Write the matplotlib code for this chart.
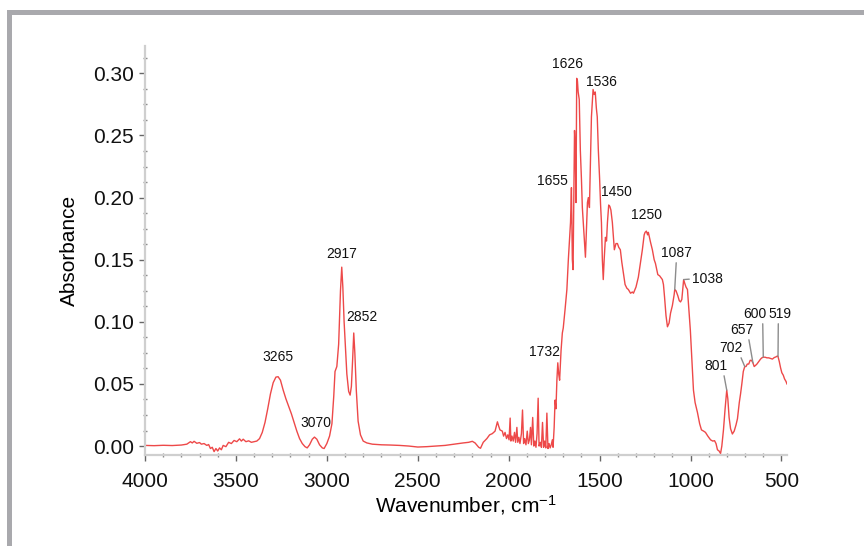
import numpy as np
import matplotlib
matplotlib.use("Agg")
import matplotlib.pyplot as plt
from matplotlib.patches import Rectangle
from matplotlib.ticker import MultipleLocator

plt.rcParams['font.family'] = ['Liberation Sans', 'DejaVu Sans']
plt.rcParams['mathtext.default'] = 'regular'

#%% spectrum (wavenumber, cm-1 / absorbance)

wavenumber = [
    4000, 3950, 3900, 3850, 3800, 3770, 3750, 3740, 3730, 3715, 3700, 3690, 3675, 3660,
    3650, 3640, 3630, 3620, 3610, 3600, 3590, 3580, 3570, 3555, 3540, 3525, 3510, 3495,
    3480, 3470, 3460, 3445, 3430, 3415, 3400, 3385, 3370, 3355, 3340, 3325, 3310, 3295,
    3280, 3268, 3255, 3240, 3225, 3210, 3195, 3180, 3165, 3150, 3135, 3120, 3108, 3095,
    3080, 3068, 3055, 3040, 3025, 3015, 3000, 2985, 2972, 2962, 2955, 2945, 2935, 2925,
    2918, 2912, 2905, 2898, 2890, 2880, 2872, 2865, 2858, 2852, 2846, 2838, 2828, 2815,
    2800, 2780, 2750, 2700, 2650, 2600, 2550, 2500, 2450, 2400, 2350, 2300, 2250, 2220,
    2200, 2185, 2165, 2155, 2140, 2120, 2105, 2090, 2075, 2062, 2055, 2048, 2035, 2028,
    2020, 2012, 2005, 1998, 1992, 1988, 1982, 1975, 1968, 1962, 1955, 1950, 1944, 1938,
    1930, 1924, 1918, 1912, 1905, 1898, 1892, 1886, 1880, 1875, 1868, 1862, 1856, 1850,
    1844, 1838, 1833, 1826, 1820, 1814, 1808, 1802, 1796, 1790, 1784, 1778, 1772, 1766,
    1760, 1756, 1750, 1745, 1740, 1735, 1730, 1725, 1720, 1712, 1705, 1700, 1690, 1680,
    1672, 1665, 1660, 1655, 1650, 1646, 1642, 1638, 1634, 1630, 1626, 1622, 1618, 1612,
    1606, 1600, 1595, 1588, 1584, 1578, 1572, 1567, 1562, 1556, 1550, 1545, 1540, 1536,
    1530, 1524, 1518, 1513, 1507, 1500, 1495, 1490, 1485, 1480, 1475, 1468, 1462, 1457,
    1450, 1444, 1438, 1430, 1424, 1419, 1410, 1402, 1395, 1386, 1378, 1369, 1360, 1350,
    1342, 1330, 1320, 1314, 1300, 1287, 1275, 1265, 1255, 1250, 1243, 1236, 1232, 1220,
    1210, 1200, 1193, 1180, 1170, 1160, 1155, 1149, 1143, 1135, 1127, 1118, 1110, 1100,
    1090, 1087, 1080, 1070, 1062, 1055, 1048, 1042, 1038, 1032, 1025, 1017, 1010, 1001,
    990, 984, 975, 962, 950, 940, 928, 918, 905, 890, 878, 868, 860, 852,
    843, 835, 828, 819, 810, 801, 795, 788, 780, 770, 760, 750, 742, 732,
    725, 718, 710, 702, 695, 688, 680, 672, 665, 657, 650, 642, 635, 625,
    615, 608, 600, 590, 580, 570, 560, 550, 540, 530, 522, 519, 512, 505,
    498, 490, 483, 475, 470,
]

absorbance = [
    0.0005, 0.0003, 0.0006, 0.0004, 0.0008, 0.0015, 0.0035, 0.0025, 0.0038, 0.0022, 0.0028, 0.0015, 0.0020, 0.0005,
    0.0012, -0.0020, -0.0010, -0.0045, -0.0020, -0.0040, -0.0015, -0.0030, 0.0005, -0.0005, 0.0030, 0.0020, 0.0045, 0.0035,
    0.0058, 0.0040, 0.0055, 0.0035, 0.0042, 0.0030, 0.0035, 0.0040, 0.0060, 0.0110, 0.0190, 0.0300, 0.0420, 0.0510,
    0.0555, 0.0558, 0.0530, 0.0450, 0.0380, 0.0320, 0.0260, 0.0190, 0.0120, 0.0060, 0.0020, -0.0005, -0.0015, 0.0010,
    0.0055, 0.0072, 0.0055, 0.0010, -0.0015, -0.0020, 0.0020, 0.0080, 0.0180, 0.0400, 0.0600, 0.0640, 0.0820, 0.1250,
    0.1440, 0.1280, 0.1000, 0.0800, 0.0580, 0.0440, 0.0410, 0.0480, 0.0700, 0.0910, 0.0750, 0.0450, 0.0200, 0.0090,
    0.0040, 0.0025, 0.0015, 0.0010, 0.0008, 0.0005, 0.0000, -0.0008, -0.0005, 0.0000, 0.0005, 0.0015, 0.0025, 0.0030,
    0.0038, 0.0025, -0.0010, -0.0018, 0.0030, 0.0060, 0.0090, 0.0100, 0.0120, 0.0195, 0.0160, 0.0130, 0.0120, 0.0080,
    0.0110, 0.0060, 0.0090, 0.0050, 0.0225, 0.0040, 0.0080, 0.0040, 0.0110, 0.0030, 0.0150, 0.0030, 0.0070, 0.0020,
    0.0100, 0.0290, 0.0020, 0.0060, 0.0010, 0.0120, 0.0020, 0.0050, 0.0150, 0.0010, 0.0230, 0.0000, 0.0040, -0.0010,
    0.0100, 0.0385, 0.0000, 0.0030, -0.0010, 0.0190, -0.0010, 0.0040, -0.0015, 0.0265, -0.0020, 0.0020, -0.0015, 0.0010,
    0.0050, -0.0010, 0.0150, 0.0370, 0.0300, 0.0530, 0.0670, 0.0580, 0.0530, 0.0770, 0.0910, 0.0950, 0.1100, 0.1260,
    0.1500, 0.1680, 0.1800, 0.2080, 0.1500, 0.1420, 0.2000, 0.2540, 0.2400, 0.1960, 0.2960, 0.2940, 0.2850, 0.2790,
    0.2380, 0.2150, 0.1920, 0.1750, 0.1660, 0.1520, 0.1750, 0.1960, 0.2000, 0.1920, 0.2300, 0.2650, 0.2780, 0.2870,
    0.2830, 0.2850, 0.2720, 0.2650, 0.2380, 0.2150, 0.1950, 0.1800, 0.1500, 0.1340, 0.1500, 0.1680, 0.1650, 0.1800,
    0.1940, 0.1930, 0.1900, 0.1800, 0.1680, 0.1580, 0.1630, 0.1630, 0.1600, 0.1580, 0.1480, 0.1390, 0.1300, 0.1270,
    0.1260, 0.1230, 0.1240, 0.1230, 0.1280, 0.1360, 0.1480, 0.1580, 0.1700, 0.1720, 0.1730, 0.1700, 0.1720, 0.1640,
    0.1580, 0.1500, 0.1470, 0.1380, 0.1370, 0.1350, 0.1340, 0.1300, 0.1200, 0.1050, 0.0960, 0.0990, 0.1070, 0.1130,
    0.1220, 0.1260, 0.1250, 0.1210, 0.1170, 0.1160, 0.1180, 0.1280, 0.1340, 0.1310, 0.1280, 0.1260, 0.1120, 0.0930,
    0.0620, 0.0450, 0.0350, 0.0270, 0.0180, 0.0130, 0.0120, 0.0110, 0.0080, 0.0050, 0.0040, 0.0043, 0.0020, -0.0030,
    -0.0040, -0.0060, 0.0000, 0.0130, 0.0300, 0.0450, 0.0380, 0.0230, 0.0140, 0.0097, 0.0120, 0.0170, 0.0220, 0.0350,
    0.0420, 0.0500, 0.0600, 0.0640, 0.0640, 0.0660, 0.0660, 0.0690, 0.0690, 0.0670, 0.0640, 0.0650, 0.0660, 0.0680,
    0.0700, 0.0710, 0.0715, 0.0715, 0.0710, 0.0710, 0.0705, 0.0700, 0.0712, 0.0718, 0.0725, 0.0720, 0.0680, 0.0630,
    0.0590, 0.0570, 0.0540, 0.0520, 0.0500,
]

# labelled bands and where their labels sit
peaks = [3265, 3070, 2917, 2852, 1732, 1655, 1626, 1536, 1450, 1250,
         1087, 1038, 801, 702, 657, 600, 519]
label_xy = {
    3265: (3268, 0.0717), 3070: (3059, 0.0185), 2917: (2916, 0.1545),
    2852: (2806, 0.1040), 1732: (1804, 0.0757), 1655: (1760, 0.2134),
    1626: (1678, 0.3076), 1536: (1490, 0.2930), 1450: (1408, 0.2045),
    1250: (1243, 0.1860), 1087: (1078, 0.1554), 1038: (907, 0.1345),
    801: (863, 0.0644), 702: (780, 0.0789), 657: (720, 0.0934),
    600: (648, 0.1063), 519: (511, 0.1063),
}
# where on the label box each leader line starts
leader_start = {
    1087: (0.5, 0.0), 1038: (0.0, 0.5), 801: (0.85, 0.0), 702: (0.9, 0.0),
    657: (0.8, 0.0), 600: (0.85, 0.0), 519: (0.45, 0.0),
}

#%% figure

fig = plt.figure(figsize=(8.64, 5.46), dpi=100)
ax = fig.add_axes([0.1678, 0.1667, 0.743, 0.749])

ax.plot(wavenumber, absorbance, color='#ec3535', lw=1.0, alpha=0.9)

ax.set_xlim(4000, 470)
ax.set_ylim(-0.0072, 0.322)
ax.xaxis.set_major_locator(MultipleLocator(500))
ax.xaxis.set_minor_locator(MultipleLocator(100))
ax.yaxis.set_major_locator(MultipleLocator(0.05))
ax.yaxis.set_minor_locator(MultipleLocator(0.0125))
ax.yaxis.set_major_formatter(matplotlib.ticker.FormatStrFormatter('%.2f'))

for s in ['top', 'right']:
    ax.spines[s].set_visible(False)
for s in ['left', 'bottom']:
    ax.spines[s].set_color('#cfcfcf')
    ax.spines[s].set_linewidth(1.6)

ax.tick_params(which='major', direction='out', length=4, width=1, color='#666666',
               labelsize=15, labelcolor='#111111')
ax.tick_params(which='minor', direction='inout', length=3, width=1, color='#888888')
ax.tick_params(axis='x', which='major', pad=8)
ax.tick_params(axis='y', which='major', pad=4)

ax.set_ylabel('Absorbance', fontsize=15, labelpad=10)
ax.set_xlabel('Wavenumber, cm$^{-1}$', fontsize=15, labelpad=2)

# band labels
for p in peaks:
    tx, ty = label_xy[p]
    if p in leader_start:
        py = np.interp(p, wavenumber[::-1], absorbance[::-1])
        ax.annotate(str(p), xy=(p, py), xytext=(tx, ty), fontsize=10,
                    ha='center', va='center', color='#111111',
                    arrowprops=dict(arrowstyle='-', color='#8c8c8c', lw=1.0,
                                    shrinkA=0, shrinkB=0, relpos=leader_start[p]))
    else:
        ax.text(tx, ty, str(p), fontsize=10, ha='center', va='center', color='#111111')

# grey frame along the top and left edges
fig.patches.append(Rectangle((7 / 864, 1 - 15 / 546), 1, 5 / 546, transform=fig.transFigure,
                             color='#a9a9ad', lw=0))
fig.patches.append(Rectangle((7 / 864, 0), 5 / 864, 1 - 10 / 546, transform=fig.transFigure,
                             color='#a9a9ad', lw=0))

fig.savefig('out.png', dpi=100)
